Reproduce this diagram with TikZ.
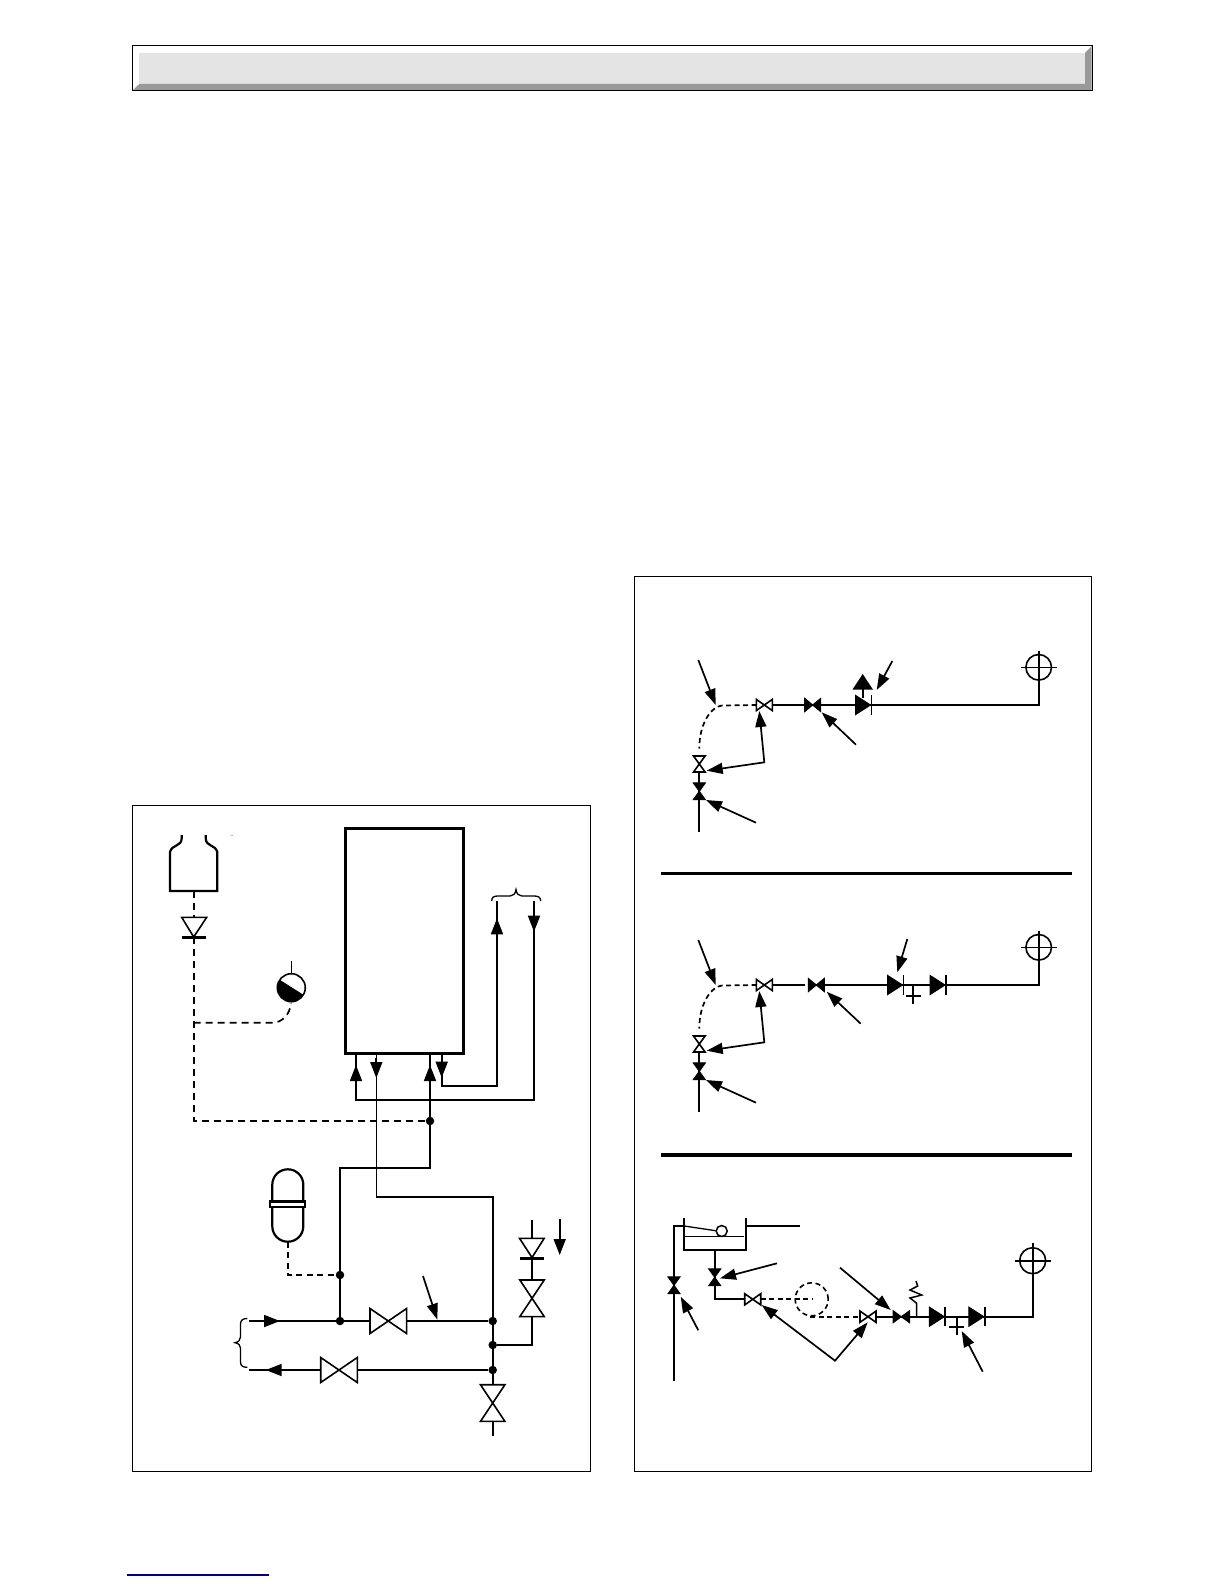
\documentclass[tikz,border=0pt]{standalone}
\usetikzlibrary{arrows.meta}
\definecolor{bface}{HTML}{E4E4E4}
\definecolor{bshade}{HTML}{999999}
\definecolor{flink}{HTML}{000080}
\tikzset{
  x=1pt,y=-1pt,
  pipe/.style={line width=1.7pt,line join=miter},
  thinpipe/.style={line width=1.1pt},
  dashpipe/.style={line width=1.7pt,dash pattern=on 7pt off 5pt},
  dashsmall/.style={line width=1.7pt,dash pattern=on 5pt off 3.5pt},
  panel/.style={draw=black,line width=1pt},
  rulebar/.style={line width=3.2pt},
  jdot/.style={circle,fill=black,inner sep=0pt,minimum size=8.5pt},
  ahead/.style={line width=1.7pt,-{Triangle[length=16pt,width=12pt]}},
  ptr/.style={line width=1.7pt,-{Triangle[length=16pt,width=11pt]}},
  ptrboth/.style={line width=1.7pt,{Triangle[length=16pt,width=11pt]}-{Triangle[length=16pt,width=11pt]}},
  bigup/.style={line width=1.7pt,-{Triangle[length=15.5pt,width=20pt]}},
  hollowv/.style={draw=black,fill=white,line width=1.6pt,line join=miter},
  solidv/.style={draw=black,fill=black,line width=1pt,line join=miter},
  pics/bow/.style n args={2}{code={\path[pic actions] (-#1,-#2)--(#1,#2)--(#1,-#2)--(-#1,#2)--cycle;}},
  pics/chk/.style n args={3}{code={
    \path[pic actions] (-#1,-#2)--(#1,0)--(-#1,#2)--cycle;
    \draw[line width=#3] (#1+1,-#2) -- (#1+1,#2);}},
  pics/cross/.style n args={3}{code={
    \draw[line width=1.6pt] (0,0) circle[radius=#1pt];
    \draw[line width=1.6pt] (-#2,0) -- (#2,0);
    \draw[line width=1.6pt] (0,-#3) -- (0,0);}},
  pics/plusmark/.style={code={
    \draw[line width=1.7pt] (-7.5,0) -- (7.5,0) (0,-10) -- (0,8);}},
}
\begin{document}
\begin{tikzpicture}
\useasboundingbox (0,0) rectangle (1224,1584);
\fill[white] (0,0) rectangle (1224,1584);

% ---------- banner and footer
\coordinate (bTL) at (132.3,45.3); \coordinate (bBR) at (1092.3,90.3);
\fill[bface] (139.3,53) rectangle (1085,84);
\fill[bshade] (1091.7,46) -- (1091.7,90) -- (133,90) -- (139.3,84) -- (1085,84) -- (1085,53) -- cycle;
\draw[line width=1.2pt] (bTL) rectangle (bBR);
\coordinate (fA) at (127,1575); \coordinate (fB) at (269,1575);
\draw[flink,line width=1.3pt] (fA) -- (fB);

% ---------- panels
\draw[panel] (132.5,805.5) rectangle (590,1471);
\draw[panel] (634.5,576.5) rectangle (1091.5,1471);

% ================= LEFT PANEL =================
% named points
\coordinate (cylB) at (193.7,891);
\coordinate (chkA) at (193.7,917.3);
\coordinate (chkB) at (193.7,937);
\coordinate (dashC) at (193.7,1121);
\coordinate (dashT) at (193.7,1022.7);
\coordinate (gaugeC) at (291.3,987.7);
\node[jdot] (j0) at (430,1121) {};
\node[jdot] (j1) at (340,1275) {};
\node[jdot] (j2) at (340,1321) {};
\node[jdot] (j3) at (492.7,1321) {};
\node[jdot] (j4) at (492.7,1345) {};
\node[jdot] (j5) at (492.7,1370) {};
\coordinate (vF1) at (388.3,1321);
\coordinate (vF2) at (339,1370);
\coordinate (vD) at (492.7,1403);
\coordinate (vE) at (532,1298.3);
\coordinate (flowL1) at (249,1321);
\coordinate (flowL2) at (249,1370);

% cylinder
\draw[line width=2.2pt,line join=miter] (181.7,835) -- (181.7,838) .. controls (181.7,847) and (172,844) .. (170,852) -- (170,891) -- (217.3,891) -- (217.3,852) .. controls (215,844) and (205.7,847) .. (205.7,838) -- (205.7,835);
\draw[black!30,line width=.6pt] (230.5,835) -- (233,835);
% dashed gas line
\draw[dashpipe] (cylB) -- (chkA);
\draw[dashpipe] (chkB) -- (dashC) -- (j0);
\draw[dashpipe] (dashT) -- (273,1022.7) .. controls (281,1022.7) and (290.5,1015) .. (290.7,1003);
\draw[hollowv,line width=1.6pt] (181.7,917.3) -- (206.7,917.3) -- (chkB) -- cycle;
\draw[line width=2.8pt] (182.3,937.3) -- (205.7,937.3);
% gauge
\begin{scope}
  \clip (gaugeC) circle[radius=14pt];
  \fill[black] (276.1,978) -- (306.5,997.4) -- (306.5,1010) -- (276,1010) -- cycle;
\end{scope}
\draw[line width=1.6pt] (gaugeC) circle[radius=14pt];
\draw[line width=1pt] (279.5,980.2) -- (303.1,995.2);
\draw[line width=1pt] (291.3,973.7) -- (291.3,961);

% boiler
\node[draw=black,line width=3pt,fill=white,inner sep=0pt,outer sep=0pt,minimum width=118.3pt,minimum height=225.8pt,anchor=north west] (boiler) at (345,828) {};

% boiler connections
\coordinate (p1a) at (356,1053); \coordinate (p1b) at (356,1100); \coordinate (p1c) at (534,1100); \coordinate (p1d) at (534,901);
\draw[pipe] (p1a) -- (p1b) -- (p1c) -- (p1d);
\draw[ahead] (356,1085) -- (356,1065);
\draw[ahead] (534,901) -- (534,931.7);
\coordinate (p2a) at (376.3,1053); \coordinate (p2b) at (376.3,1196.7); \coordinate (p2c) at (492.7,1196.7);
\draw[thinpipe] (p2a) -- (p2b);
\draw[pipe] (p2b) -- (p2c) -- (j5);
\draw[ahead] (376.3,1058) -- (376.3,1078);
\coordinate (p3a) at (430,1053); \coordinate (p3b) at (430,1167.7); \coordinate (p3c) at (340,1167.7);
\draw[pipe] (p3a) -- (p3b) -- (p3c) -- (j2);
\draw[ahead] (430,1085) -- (430,1065);
\coordinate (p4a) at (441.7,1053); \coordinate (p4b) at (441.7,1085.7); \coordinate (p4c) at (497,1085.7); \coordinate (p4d) at (497,901);
\draw[pipe] (p4a) -- (p4b) -- (p4c) -- (p4d);
\draw[ahead] (441.7,1058) -- (441.7,1077.7);
\draw[ahead] (497,938) -- (497,918.3);
% top brace
\draw[line width=1.3pt] (491.7,901) .. controls (491.7,897) and (494,896) .. (498,896) -- (510,896) .. controls (513,896) and (515.5,894) .. (516,889.5) .. controls (516.5,894) and (519,896) .. (522,896) -- (534,896) .. controls (538,896) and (540.7,897) .. (540.7,901);

% expansion vessel
\draw[line width=2.2pt,rounded corners=15.4pt] (272.3,1169.3) rectangle (303.3,1241.7);
\draw[draw=black,fill=white,line width=2.2pt] (270,1201.5) rectangle (305,1207);
\coordinate (expB) at (287.7,1241.7); \coordinate (expC) at (287.7,1275);
\draw[line width=1.7pt,dash pattern=on 6pt off 4.5pt] (expB) -- (expC) -- (j1);

% lower manifold
\draw[pipe] (flowL1) -- (j3);
\draw[pipe] (flowL2) -- (j5);
\draw[ahead] (262,1321) -- (280,1321);
\draw[ahead] (284,1370) -- (265.7,1370);
\pic[hollowv] at (vF1) {bow={18.3}{12.5}};
\pic[hollowv] at (vF2) {bow={18.3}{12.5}};
% left brace
\draw[line width=1.3pt] (247.3,1318.5) .. controls (243,1318.5) and (240.5,1320) .. (240.5,1324) -- (240.5,1337) .. controls (240.5,1340) and (238.5,1342) .. (235,1342.7) .. controls (238.5,1343.4) and (240.5,1345) .. (240.5,1348) -- (240.5,1362) .. controls (240.5,1366) and (243,1367.3) .. (247.3,1367.3);
% pointer
\coordinate (ptA) at (423,1276); \coordinate (ptB) at (437.3,1319.6);
\draw[ptr] (ptA) -- (ptB);
% bottom drain
\coordinate (drainEnd) at (492.7,1435.7);
\draw[pipe] (j5) -- (drainEnd);
\pic[hollowv,rotate=90] at (vD) {bow={18.3}{12.2}};
% branch with check and valve
\coordinate (brA) at (532,1345); \coordinate (brTop) at (532,1220);
\draw[pipe] (j4) -- (brA) -- (brTop);
\pic[hollowv,rotate=90] at (vE) {bow={18.3}{12.2}};
\draw[hollowv] (519.5,1238.3) -- (544.2,1238.3) -- (532,1257.5) -- cycle;
\draw[line width=2.8pt] (520,1258.3) -- (544,1258.3);
\coordinate (arrR1) at (559.7,1218.7); \coordinate (arrR2) at (559.7,1255);
\draw[ahead] (arrR1) -- (arrR2);

% ================= RIGHT PANEL =================
\draw[rulebar] (661,873.3) -- (1072,873.3);
\draw[rulebar] (661,1155) -- (1072,1155);

% ----- diagram A
\coordinate (aEnd) at (1038.7,705);
\coordinate (aCross) at (1038.7,667.3);
\coordinate (aChk) at (863,705);
\coordinate (aV1) at (812.7,705);
\coordinate (aV2) at (764.3,705);
\coordinate (aV3) at (699.3,764);
\coordinate (aV4) at (699.3,791.3);
\coordinate (aBot) at (699.3,831.7);
\draw[pipe] (aV2) -- (aEnd) -- (aCross);
\pic at (aCross) {cross={12.8}{17.8}{16.7}};
\draw[dashsmall] (756.7,705) -- (722,705.5) .. controls (712,706.5) and (699.3,722) .. (699.3,748.5);
\draw[pipe] (aV3) -- (aBot);
\pic[hollowv] at (aV2) {bow={8}{5.6}};
\pic[solidv] at (aV1) {bow={8}{6.6}};
\pic[hollowv,rotate=90] at (aV3) {bow={8}{5.8}};
\pic[solidv,rotate=90] at (aV4) {bow={8.4}{6}};
\pic[solidv] at (aChk) {chk={7.5}{9.6}{1.7pt}};
\draw[bigup] (862.7,698) -- (862.7,674);
\coordinate (aP1a) at (698.3,660); \coordinate (aP1b) at (715.7,705);
\draw[ptr] (aP1a) -- (aP1b);
\coordinate (aP2a) at (892.3,661); \coordinate (aP2b) at (876.7,690);
\draw[ptr] (aP2a) -- (aP2b);
\coordinate (aP3a) at (856,744.7); \coordinate (aP3b) at (821.7,712.3);
\draw[ptr] (aP3a) -- (aP3b);
\coordinate (aP4a) at (756,822.7); \coordinate (aP4b) at (706,800);
\draw[ptr] (aP4a) -- (aP4b);
\coordinate (aE) at (764.3,762.3); \coordinate (aEa) at (759.3,711); \coordinate (aEb) at (706.7,770.7);
\draw[ptrboth] (aEa) -- (aE) -- (aEb);

% ----- diagram B
\coordinate (bEnd) at (1038.7,985);
\coordinate (bCross) at (1038.7,947.3);
\coordinate (bChk1) at (895,985);
\coordinate (bChk2) at (937.5,985);
\coordinate (bV1) at (816.3,985);
\coordinate (bV2) at (764.3,985);
\coordinate (bV3) at (699.3,1044);
\coordinate (bV4) at (699.3,1071.3);
\coordinate (bBot) at (699.3,1111.7);
\coordinate (bGapA) at (805,985);
\draw[pipe] (bV2) -- (bGapA);
\draw[pipe] (bV1) -- (bEnd) -- (bCross);
\pic at (bCross) {cross={12.8}{17.8}{16.7}};
\draw[dashsmall] (756.7,985) -- (722,985.5) .. controls (712,986.5) and (699.3,1002) .. (699.3,1028.5);
\draw[pipe] (bV3) -- (bBot);
\pic[hollowv] at (bV2) {bow={8}{5.6}};
\pic[solidv] at (bV1) {bow={8}{6.6}};
\pic[hollowv,rotate=90] at (bV3) {bow={8}{5.8}};
\pic[solidv,rotate=90] at (bV4) {bow={8.4}{6}};
\pic[solidv] at (bChk1) {chk={7.5}{9.6}{1.7pt}};
\pic[solidv] at (bChk2) {chk={7.5}{9.6}{1.7pt}};
\pic at (913,996) {plusmark};
\coordinate (bP1a) at (698.3,940); \coordinate (bP1b) at (715.7,985);
\draw[ptr] (bP1a) -- (bP1b);
\coordinate (bP2a) at (907.3,939); \coordinate (bP2b) at (897.3,972.3);
\draw[ptr] (bP2a) -- (bP2b);
\coordinate (bP3a) at (860.7,1023.7); \coordinate (bP3b) at (826.7,991.7);
\draw[ptr] (bP3a) -- (bP3b);
\coordinate (bP4a) at (756,1102.7); \coordinate (bP4b) at (706,1080);
\draw[ptr] (bP4a) -- (bP4b);
\coordinate (bE) at (764.3,1042.3); \coordinate (bEa) at (759.3,991); \coordinate (bEb) at (706.7,1050.7);
\draw[ptrboth] (bEa) -- (bE) -- (bEb);

% ----- diagram C
\coordinate (cEnd) at (1032.7,1316.7);
\coordinate (cCross) at (1032.7,1260.7);
\coordinate (cV1) at (901.3,1316.7);
\coordinate (cV2) at (868,1316.7);
\coordinate (cV3) at (752.7,1299.3);
\coordinate (cV4) at (714.7,1277.3);
\coordinate (cV5) at (674,1285.3);
\coordinate (cChk1) at (936.8,1316.7);
\coordinate (cChk2) at (976.3,1316.7);
\coordinate (tankOutA) at (714.7,1250);
\coordinate (tankOutB) at (714.7,1299.3);
\coordinate (cIn) at (674,1381);
\coordinate (cInTop) at (674,1226);
% tank
\draw[line width=1.9pt,line join=miter] (684.3,1217.7) -- (684.3,1250) -- (746,1250) -- (746,1217.7);
\draw[line width=.9pt] (684.3,1236) -- (744.3,1236);
\draw[line width=1.3pt] (746,1226) -- (800,1226);
\draw[pipe] (cIn) -- (cInTop) -- (684.3,1226);
\draw[line width=1.3pt] (684.3,1226) -- (715.7,1230.7);
\node[circle,draw=black,fill=white,line width=1.5pt,inner sep=0pt,minimum size=11pt] (cBall) at (721.7,1231) {};
\draw[pipe] (tankOutA) -- (tankOutB) -- (cV3);
% dashed route
\draw[dashsmall] (760.7,1299.3) -- (813.3,1299.3);
\node[circle,draw=black,line width=1.6pt,dash pattern=on 5pt off 3.5pt,inner sep=0pt,minimum size=33pt] (cDash) at (811.7,1299.3) {};
\draw[dashsmall] (810,1316.7) -- (860,1316.7);
\draw[pipe] (cV2) -- (cEnd) -- (cCross);
\pic at (cCross) {cross={13}{18}{17.4}};
\draw[line width=1.5pt] (916.7,1316.7) -- (916.7,1303.3) -- (910,1298) -- (921.7,1295) -- (910,1290) -- (917.7,1286) -- (916,1281);
\pic[hollowv] at (cV3) {bow={8}{5.6}};
\pic[hollowv] at (cV2) {bow={8}{5.6}};
\pic[solidv] at (cV1) {bow={8.2}{6}};
\pic[solidv,rotate=90] at (cV4) {bow={8.4}{6}};
\pic[solidv,rotate=90] at (cV5) {bow={8.4}{6}};
\pic[solidv] at (cChk1) {chk={7.5}{9.6}{1.7pt}};
\pic[solidv] at (cChk2) {chk={7.5}{9.6}{1.7pt}};
\pic at (956.7,1327.3) {plusmark};
\coordinate (cP1a) at (777,1263.3); \coordinate (cP1b) at (720,1278.3);
\draw[ptr] (cP1a) -- (cP1b);
\coordinate (cP2a) at (698.3,1330.3); \coordinate (cP2b) at (680.7,1296.7);
\draw[ptr] (cP2a) -- (cP2b);
\coordinate (cP3a) at (840,1267.7); \coordinate (cP3b) at (890.7,1310);
\draw[ptr] (cP3a) -- (cP3b);
\coordinate (cP4a) at (982.7,1371.7); \coordinate (cP4b) at (961.7,1331);
\draw[ptr] (cP4a) -- (cP4b);
\coordinate (cE) at (835,1360.7); \coordinate (cEa) at (761.7,1305); \coordinate (cEb) at (867.7,1322.3);
\draw[ptrboth] (cEa) -- (cE) -- (cEb);
\end{tikzpicture}
\end{document}
